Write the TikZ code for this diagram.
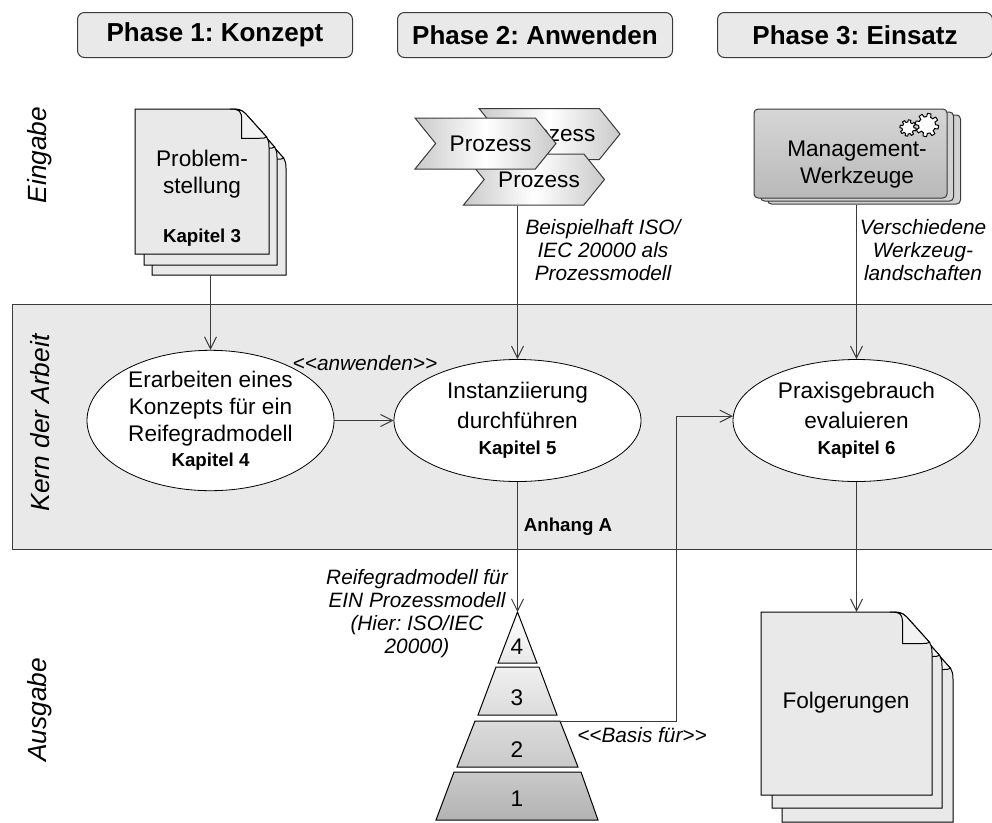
\documentclass[tikz,border=0pt]{standalone}
\usepackage{fontspec}
\setmainfont{Liberation Sans}
\usepackage{tikz}
\usetikzlibrary{arrows.meta,shapes.geometric,shapes.symbols}

\definecolor{bandgrey}{HTML}{E9E9E9}
\definecolor{linegrey}{HTML}{3A3A3A}

\newcommand{\sheet}[5]{% x, y, width, height, fold
\begin{scope}[shift={(#1,#2)}]
\pgfmathsetmacro{\sw}{#3}
\pgfmathsetmacro{\sh}{#4}
\pgfmathsetmacro{\sf}{#5}
\draw[sheetline, fill=bandgrey] (0,0) -- ({\sw-\sf},0)
  .. controls ({\sw-0.8*\sf},0) and ({\sw-0.72*\sf},0) .. ({\sw-0.6*\sf},{0.12*\sf})
  -- ({\sw-0.06*\sf},{0.72*\sf})
  .. controls ({\sw-0.02*\sf},{0.78*\sf}) and (\sw,{0.85*\sf}) .. (\sw,{0.98*\sf})
  -- (\sw,\sh) -- (0,\sh) -- cycle;
\draw[sheetline, fill=white!95!black] ({\sw-\sf},0)
  .. controls ({\sw-0.75*\sf},0) and ({\sw-0.7*\sf},{0.05*\sf}) .. ({\sw-0.7*\sf},{0.3*\sf})
  -- ({\sw-0.7*\sf},{0.75*\sf}) -- ({\sw-0.25*\sf},{0.75*\sf})
  .. controls ({\sw-0.15*\sf},{0.75*\sf}) and ({\sw-0.1*\sf},{0.75*\sf}) .. ({\sw-0.06*\sf},{0.72*\sf})
  -- ({\sw-0.6*\sf},{0.12*\sf})
  .. controls ({\sw-0.72*\sf},0) and ({\sw-0.8*\sf},0) .. ({\sw-\sf},0);
\end{scope}}

\newcommand{\gear}[3]{% x, y, radius
\draw[line width=1pt, fill=white, domain=0:360, samples=145, variable=\t]
  plot ({#1+(#3+0.16*#3*max(-1,min(1,3*sin(8*\t))))*cos(\t)}, {#2+(#3+0.16*#3*max(-1,min(1,3*sin(8*\t))))*sin(\t)}) -- cycle;}

\tikzset{
  phasebox/.style={draw=linegrey, fill=bandgrey, line width=1pt, rounded corners=7pt,
    minimum width=275pt, minimum height=45pt, inner sep=0pt,
    font=\fontsize{26}{30}\selectfont\bfseries},
  sideword/.style={rotate=90, font=\fontsize{26.3}{30}\selectfont\itshape},
  ell/.style={draw=black, fill=white, line width=0.8pt, ellipse, minimum width=247pt,
    minimum height=122pt, inner sep=0pt, align=center},
  body/.style={align=center, font=\fontsize{22.6}{27}\selectfont},
  bold/.style={font=\fontsize{18.7}{22}\selectfont\bfseries},
  note/.style={align=center, font=\fontsize{20.8}{23}\selectfont\itshape},
  prozess/.style={signal, signal to=east, signal from=west, signal pointer angle=102,
    draw=linegrey, line width=1pt, left color=gray!42, right color=gray!42, middle color=white,
    minimum width=141pt, minimum height=51pt, inner sep=0pt, font=\fontsize{22.6}{27}\selectfont},
  card/.style={draw=linegrey, line width=1pt, rounded corners=4pt, inner sep=0pt,
    minimum width=193pt, minimum height=89pt},
  sheetline/.style={draw=black, line width=1pt},
  pyr/.style={draw=black, line width=1pt},
  conn/.style={draw=linegrey, line width=1pt, -{Straight Barb[length=12pt,width=12pt,line width=1pt]}},
}

\begin{document}
\frenchspacing
\begin{tikzpicture}[x=1pt,y=-1pt]
\useasboundingbox (0,0) rectangle (992,822);

% phases
\node[phasebox] (phase1) at (215,35) {Phase 1: Konzept};
\node[phasebox] (phase2) at (535,35) {Phase 2: Anwenden};
\node[phasebox] (phase3) at (855,35) {Phase 3: Einsatz};

% band
\draw[draw=linegrey, fill=bandgrey, line width=1pt] (12,304) rectangle (998,549);
\node[sideword] (eingabe) at (40,155) {Eingabe};
\node[sideword] (kern) at (40,423) {Kern der Arbeit};
\node[sideword] (ausgabe) at (40,710) {Ausgabe};

% input
\sheet{152}{130}{134}{145}{39}
\sheet{144}{119}{133}{146}{39}
\sheet{135}{109}{134}{145}{39}
\node[body] (doc1) at (202,174) {Problem-\\stellung};
\node[bold] (kap3) at (202,238) {Kapitel 3};
\coordinate (doc1end) at (210.5,275);

\node[prozess] (proz2) at (549.5,134) {\hspace*{10pt}Prozess};
\node[prozess] (proz3) at (534,179.5) {\hspace*{10pt}Prozess};
\node[prozess] (proz1) at (485.5,143.5) {\hspace*{10pt}Prozess};

\node[card, fill=bandgrey!90!black] (tool3) at (864,159.5) {};
\node[card, fill=bandgrey!90!black] (tool2) at (857,156.5) {};
\node[card, top color=gray!32, bottom color=gray!55] (tool1) at (850.5,153.5) {};
\gear{908}{128}{7}
\gear{927}{125}{10}
\node[body] (tooltext) at (857,165) {Management-\\Werkzeuge};

% core
\node[ell, body] (ell1) at (210.5,420.5) {Erarbeiten eines\\Konzepts für ein\\Reifegradmodell\\[-2pt]{\bfseries\fontsize{18.7}{22}\selectfont Kapitel 4}};
\node[ell, body] (ell2) at (517.5,420.5) {Instanziierung\\[3pt]durchführen\\[-1pt]{\bfseries\fontsize{18.7}{22}\selectfont Kapitel 5}};
\node[ell, body] (ell3) at (856.5,420.5) {Praxisgebrauch\\[3pt]evaluieren\\[-1pt]{\bfseries\fontsize{18.7}{22}\selectfont Kapitel 6}};
\node[note] (anwenden) at (365,363) {<{}<anwenden>{}>};
\node[bold] (anhang) at (568,527) {Anhang A};

\node[note] (beisp) at (603,250) {Beispielhaft ISO/\\IEC 20000 als\\Prozessmodell};
\node[note] (versch) at (923,250) {Verschiedene\\Werkzeug-\\landschaften};
\node[note] (reife) at (417,614) {Reifegradmodell für\\EIN Prozessmodell\\(Hier: ISO/IEC\\20000)};

% pyramid
\coordinate (apex) at (517.5,612);
\coordinate (pyr2) at (560,721);
\coordinate (kink) at (676,721);
\draw[pyr, top color=white, bottom color=gray!18] (apex) -- (537,663) -- (498,663) -- cycle;
\draw[pyr, top color=gray!12, bottom color=gray!28] (496,667) -- (539,667) -- (557,715) -- (478,715) -- cycle;
\draw[pyr, top color=gray!28, bottom color=gray!42] (475,721) -- (pyr2) -- (578,767) -- (457,767) -- cycle;
\draw[pyr, top color=gray!42, bottom color=gray!60] (454,772) -- (581,772) -- (598,820) -- (436,820) -- cycle;
\node[body] (lvl4) at (517,647) {4};
\node[body] (lvl3) at (517,698) {3};
\node[body] (lvl2) at (517,750) {2};
\node[body] (lvl1) at (517,799) {1};
\node[note] (basis) at (642,735) {<{}<Basis für>{}>};

% output
\sheet{782}{638}{171}{184}{42}
\sheet{772}{625}{170}{183}{42}
\sheet{761}{612}{171}{183}{42}
\node[body] (folg) at (846,703) {Folgerungen};
\coordinate (folgtop) at (856.5,612);

% connectors
\draw[conn] (doc1end) -- (ell1.north);
\draw[conn] (proz3.south -| ell2.north) -- (ell2.north);
\draw[conn] (tool3.south -| ell3.north) -- (ell3.north);
\draw[conn] (ell1.east) -- (ell2.west);
\draw[conn] (ell2.south) -- (apex);
\draw[conn] (ell3.south) -- (folgtop);
\draw[conn] (pyr2) -- (kink) |- (ell3.178);
\end{tikzpicture}
\end{document}
